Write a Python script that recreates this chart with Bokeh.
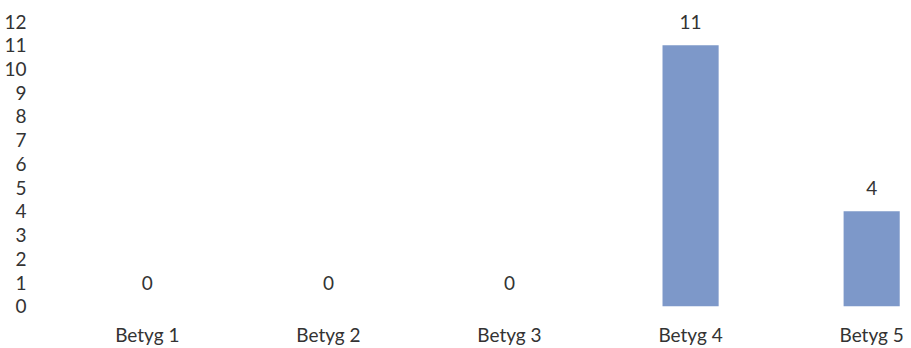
from bokeh.plotting import figure
from bokeh.models import ColumnDataSource, FixedTicker, Range1d
from bokeh.core.properties import value
from bokeh.embed import file_html
from bokeh.resources import INLINE

categories = ["Betyg 1", "Betyg 2", "Betyg 3", "Betyg 4", "Betyg 5"]
counts = [0, 0, 0, 11, 4]
y_ticks = list(range(0, 13))

xs = [i + 1 for i in range(len(categories))]
src = ColumnDataSource(dict(x=xs, top=counts, label=[str(c) for c in counts]))

FONT = "Lato"
TXT = "#333333"
FS = "19px"

p = figure(width=911, height=348, output_backend="svg", toolbar_location=None,
           x_range=Range1d(0.41, 5.22), y_range=Range1d(-0.22, 12.55),
           min_border_left=40, min_border_right=0, min_border_top=8, min_border_bottom=36)
p.outline_line_color = None
p.background_fill_color = "white"
p.border_fill_color = "white"
p.xgrid.visible = False
p.ygrid.visible = False

p.vbar(x="x", top="top", bottom=0, width=0.31, source=src,
       fill_color="#7d98c9", line_color=None)

p.text(x="x", y="top", text="label", source=src, y_offset=-23,
       text_align="center", text_baseline="middle",
       text_font=value(FONT), text_font_size=FS, text_color=TXT)

p.xaxis.ticker = FixedTicker(ticks=xs)
p.xaxis.major_label_overrides = {x: c for x, c in zip(xs, categories)}
p.yaxis.ticker = FixedTicker(ticks=y_ticks)

for ax in (p.xaxis, p.yaxis):
    ax.axis_line_color = None
    ax.major_tick_line_color = None
    ax.minor_tick_line_color = None
    ax.major_label_text_font = FONT
    ax.major_label_text_font_size = FS
    ax.major_label_text_color = TXT
p.xaxis.major_label_standoff = 5
p.yaxis.major_label_standoff = 8

open("out.html", "w").write(file_html(p, INLINE))
